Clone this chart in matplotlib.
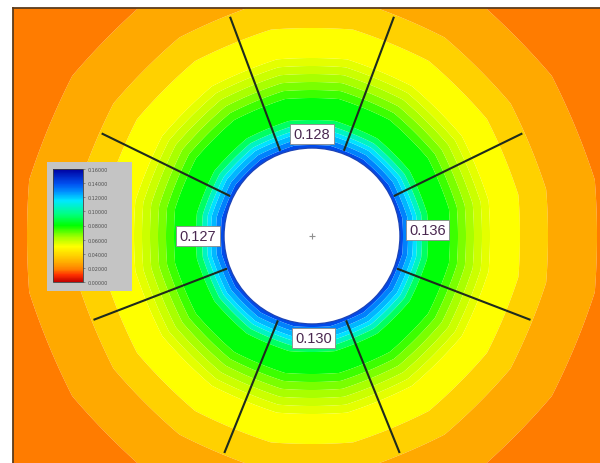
import matplotlib
matplotlib.use('Agg')
import matplotlib.pyplot as plt
import numpy as np
from matplotlib.colors import LinearSegmentedColormap, Normalize
from matplotlib.patches import Circle
from matplotlib.colorbar import ColorbarBase

# tunnel centre and opening radius (pixel units of the section view)
cx, cy = 312., 237.
hole_r = 88.

# displacement bands: inner edge of each band and the displacement shown in it
ring_radius = [86, 91, 96, 101, 105, 110, 116, 138, 146, 154, 162, 170, 178,
               208, 236, 285]
ring_value = [0.140, 0.130, 0.122, 0.116, 0.106, 0.092, 0.081, 0.074, 0.068,
              0.063, 0.058, 0.054, 0.050, 0.037, 0.027, 0.018]

# measuring lines around the opening (degrees, counter-clockwise from +x)
line_angle = [26, 69.5, 110.5, 154, 201, 248, 292, 339]
line_r0, line_r1 = 92., 233.

# boundary displacement labels
label_text = ['0.128', '0.127', '0.136', '0.130']
label_angle = [90, 180, 3, -89]
label_r = [102, 114, 116, 102]

# legend ticks
cbar_ticks = [0.0, 0.02, 0.04, 0.06, 0.08, 0.10, 0.12, 0.14, 0.16]

cmap = LinearSegmentedColormap.from_list('disp', [
    (0.0, '#c00000'), (0.06, '#ff3000'), (0.1125, '#ff8000'),
    (0.17, '#ffaa00'), (0.23, '#ffd000'), (0.3125, '#ffff00'),
    (0.40, '#a0ff00'), (0.50, '#00ff00'), (0.60, '#00ff80'),
    (0.72, '#00e8ff'), (0.80, '#0090ff'), (0.87, '#0050f0'),
    (1.0, '#0000a0')])
norm = Normalize(0.0, 0.16)

W, H = 600, 464
fig = plt.figure(figsize=(W / 100., H / 100.), dpi=100)
ax = fig.add_axes([13. / W, -2. / H, 590. / W, 457. / H])
ax.set_xlim(13, 603)
ax.set_ylim(466, 9)

# distance from the tunnel centre, slightly faceted like the mesh
X, Y = np.meshgrid(np.arange(13, 604, 1.0), np.arange(9, 467, 1.0))
r = np.hypot(X - cx, Y - cy)
th = np.arctan2(-(Y - cy), X - cx)
seg = 2 * np.pi / 16
phi = np.mod(th + seg / 2, seg) - seg / 2
D = r * (1 - 0.6 * (1 - np.cos(phi)))

levels = ring_radius + [1000]
colors = [cmap(norm(v)) for v in ring_value]
ax.contourf(X, Y, D, levels=levels, colors=colors, antialiased=True)

ax.add_patch(Circle((cx, cy), hole_r, facecolor='white',
                    edgecolor='#1c44b8', lw=1.0, zorder=3))
ax.plot([cx], [cy], marker='+', color='#909090', ms=5, mew=0.8, zorder=4)

for a in line_angle:
    t = np.radians(a)
    ax.plot([cx + line_r0 * np.cos(t), cx + line_r1 * np.cos(t)],
            [cy - line_r0 * np.sin(t), cy - line_r1 * np.sin(t)],
            color='#1e2a1e', lw=1.5, zorder=5)

for txt, a, rr in zip(label_text, label_angle, label_r):
    t = np.radians(a)
    ax.text(cx + rr * np.cos(t), cy - rr * np.sin(t), txt,
            ha='center', va='center', fontsize=10.5, color='#4a2850',
            family='Liberation Sans', zorder=6,
            bbox=dict(boxstyle='square,pad=0.22', fc='white',
                      ec='#8a8a8a', lw=0.6))

ax.set_xticks([])
ax.set_yticks([])
for s in ax.spines.values():
    s.set_color('#5c3c1c')
    s.set_linewidth(1.3)

# legend box with colour scale
bg = fig.add_axes([47. / W, (H - 292.) / H, 85. / W, 129. / H])
bg.set_facecolor('#c4c4c4')
bg.set_xticks([])
bg.set_yticks([])
for s in bg.spines.values():
    s.set_visible(False)

cax = fig.add_axes([53. / W, (H - 283.) / H, 30. / W, 113. / H])
cb = ColorbarBase(cax, cmap=cmap, norm=norm, orientation='vertical',
                  ticks=cbar_ticks)
cb.set_ticklabels(['%.5f' % v for v in cbar_ticks])
cb.outline.set_edgecolor('#404040')
cb.outline.set_linewidth(0.6)
cax.tick_params(labelsize=3.5, length=1.5, width=0.4, colors='#505050',
                pad=1.5)

plt.savefig('out.png', dpi=100)
plt.close()
